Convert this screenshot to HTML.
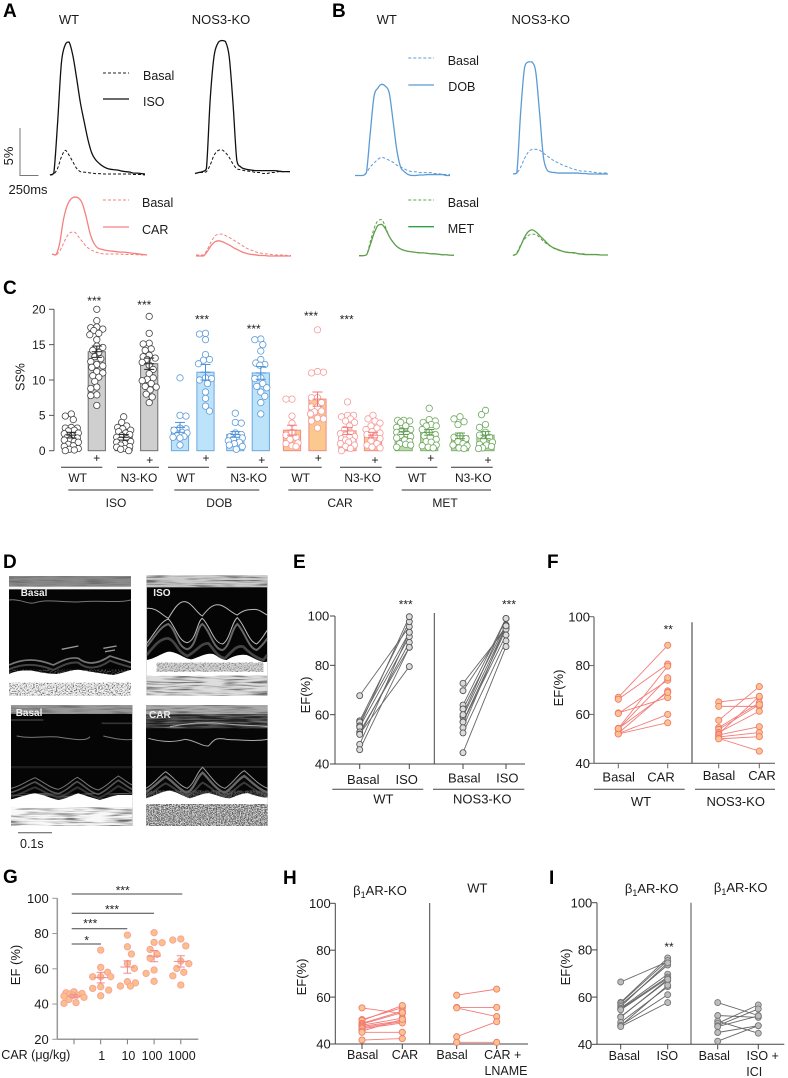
<!DOCTYPE html>
<html lang="en">
<head>
<meta charset="utf-8">
<title>Cardiac contractility figure</title>
<style>
html,body{margin:0;padding:0;background:#fff}
svg{display:block;font-family:"Liberation Sans",Arial,sans-serif;fill:#1a1a1a}
.pl{font-size:19px;font-weight:bold;fill:#000}
.t13{font-size:13px}
.t125{font-size:12.5px}
.t12{font-size:12px}
.m{text-anchor:middle}
.star{font-size:12px;text-anchor:middle;fill:#222}
.ew{font-size:10px;font-weight:bold;fill:#eee}
</style>
</head>
<body>
<svg id="fig" xmlns="http://www.w3.org/2000/svg" width="788" height="1078" viewBox="0 0 788 1078">
<defs>
<filter id="stripes" x="0" y="0" width="1" height="1">
<feTurbulence type="fractalNoise" baseFrequency=".012 .2" numOctaves="2" seed="4" result="n"/>
<feColorMatrix in="n" type="matrix" values="0 0 0 0 .15  0 0 0 0 .15  0 0 0 0 .15  3.2 0 0 0 -1.4" result="dark"/>
<feMerge><feMergeNode in="SourceGraphic"/><feMergeNode in="dark"/></feMerge>
</filter>
<filter id="speck" x="0" y="0" width="1" height="1">
<feTurbulence type="fractalNoise" baseFrequency=".22 .3" numOctaves="2" seed="9" result="n"/>
<feColorMatrix in="n" type="matrix" values="0 0 0 0 .1  0 0 0 0 .1  0 0 0 0 .1  4 0 0 0 -1.8" result="dark"/>
<feMerge><feMergeNode in="SourceGraphic"/><feMergeNode in="dark"/></feMerge>
</filter>
<filter id="speckDark" x="0" y="0" width="1" height="1">
<feTurbulence type="fractalNoise" baseFrequency=".25 .32" numOctaves="2" seed="15" result="n"/>
<feColorMatrix in="n" type="matrix" values="0 0 0 0 .1  0 0 0 0 .1  0 0 0 0 .1  4 0 0 0 -1.4" result="dark"/>
<feMerge><feMergeNode in="SourceGraphic"/><feMergeNode in="dark"/></feMerge>
</filter>
<clipPath id="e1"><rect x="27" y="78" width="366" height="359"/></clipPath>
<clipPath id="e2"><rect x="440" y="76" width="362" height="361"/></clipPath>
<clipPath id="e3"><rect x="33" y="465" width="364" height="363"/></clipPath>
<clipPath id="e4"><rect x="438" y="465" width="365" height="363"/></clipPath>
</defs>

<g id="panel-a">
<text class="pl" x="3" y="17">A</text>
<text class="t13 m" x="69" y="24">WT</text>
<text class="t13 m" x="221" y="24">NOS3-KO</text>
<line x1="103" x2="129" y1="73" y2="73" stroke="#222" stroke-width="1" stroke-dasharray="3 2"/>
<line x1="103" x2="129" y1="99" y2="99" stroke="#111" stroke-width="1.3"/>
<text class="t125" x="143" y="80">Basal</text>
<text class="t125" x="143" y="106">ISO</text>
<line x1="103" x2="129" y1="200" y2="200" stroke="#f58080" stroke-width="1" stroke-dasharray="3 2"/>
<line x1="103" x2="129" y1="227" y2="227" stroke="#f58080" stroke-width="1.3"/>
<text class="t125" x="142" y="207">Basal</text>
<text class="t125" x="142" y="234">CAR</text>
<path d="M20 128V175.5H38.5" fill="none" stroke="#777" stroke-width="1"/>
<text class="t13 m" transform="translate(13,156) rotate(-90)">5%</text>
<text class="t13" x="8.5" y="194">250ms</text>
</g>

<g id="panel-b">
<text class="pl" x="332" y="17">B</text>
<text class="t13 m" x="386.7" y="24">WT</text>
<text class="t13 m" x="540.7" y="24">NOS3-KO</text>
<line x1="408.3" x2="434" y1="58" y2="58" stroke="#5b9bd5" stroke-width="1" stroke-dasharray="3 2"/>
<line x1="408.3" x2="434" y1="85" y2="85" stroke="#5b9bd5" stroke-width="1.3"/>
<text class="t125" x="447.7" y="65">Basal</text>
<text class="t125" x="448.3" y="91">DOB</text>
<line x1="408.3" x2="434" y1="200" y2="200" stroke="#5da04a" stroke-width="1" stroke-dasharray="3 2"/>
<line x1="408.3" x2="434" y1="226.7" y2="226.7" stroke="#2fa04a" stroke-width="1.3"/>
<text class="t125" x="447.7" y="207">Basal</text>
<text class="t125" x="447.7" y="233">MET</text>
</g>

<g id="panel-c">
<text class="pl" x="3" y="294">C</text>
<text class="t125 m" transform="translate(24.5,377) rotate(-90)">SS%</text>
<text class="star" x="94.3" y="305">***</text>
<text class="star" x="144.3" y="309">***</text>
<text class="star" x="202" y="323.7">***</text>
<text class="star" x="253.7" y="333">***</text>
<text class="star" x="311" y="320">***</text>
<text class="star" x="346.7" y="323.7">***</text>
<g class="t12 m">
<text x="96.7" y="462">+</text>
<text x="149.7" y="464">+</text>
<text x="206" y="462">+</text>
<text x="261.7" y="464">+</text>
<text x="318.3" y="462">+</text>
<text x="375" y="464">+</text>
<text x="430.7" y="462">+</text>
<text x="488" y="464">+</text>
</g>
<g stroke="#333" stroke-width="1">
<line x1="61" x2="102.3" y1="467.3" y2="467.3"/>
<line x1="117" x2="159" y1="467.3" y2="467.3"/>
<line x1="168" x2="209" y1="467.3" y2="467.3"/>
<line x1="226.7" x2="268" y1="467.3" y2="467.3"/>
<line x1="280" x2="321.7" y1="467.3" y2="467.3"/>
<line x1="340" x2="381.7" y1="467.3" y2="467.3"/>
<line x1="395.7" x2="437.3" y1="467.3" y2="467.3"/>
<line x1="451" x2="492.7" y1="467.3" y2="467.3"/>
</g>
<g class="t12 m">
<text x="77.7" y="482">WT</text>
<text x="139" y="482">N3-KO</text>
<text x="186" y="482">WT</text>
<text x="248.7" y="482">N3-KO</text>
<text x="300.7" y="482">WT</text>
<text x="362.7" y="482">N3-KO</text>
<text x="417.3" y="482">WT</text>
<text x="473.3" y="482">N3-KO</text>
</g>
<g stroke="#777" stroke-width="1.5">
<line x1="68.3" x2="153.3" y1="490" y2="490"/>
<line x1="174.3" x2="259.3" y1="490" y2="490"/>
<line x1="288.3" x2="373.3" y1="490" y2="490"/>
<line x1="401.7" x2="491" y1="490" y2="490"/>
</g>
<g class="t12 m">
<text x="116" y="507">ISO</text>
<text x="219.3" y="507">DOB</text>
<text x="340" y="507">CAR</text>
<text x="445" y="507">MET</text>
</g>
</g>

<g id="panel-d">
<text class="pl" x="3" y="568">D</text>
<g transform="translate(0,550) scale(.33333)">
<g clip-path="url(#e1)">
<rect x="27" y="78" width="366" height="359" fill="#050505"/>
<rect x="27" y="78" width="366" height="36" fill="#8a8a8a" filter="url(#stripes)"/>
<rect x="27" y="110" width="366" height="8" fill="#f4f4f4"/>
<path d="M27 150 C60 145 85 165 105 158 C150 145 190 160 250 155 C300 150 350 160 393 150" fill="none" stroke="#777" stroke-width="3"/>
<path d="M185 298 L235 288 M310 295 L350 288 M315 305 L345 300" fill="none" stroke="#999" stroke-width="4"/>
<path d="M27 345 C70 325 110 325 160 345 C190 330 210 320 235 325 C260 345 290 345 330 318 C350 325 370 330 393 338" fill="none" stroke="#777" stroke-width="5"/>
<path d="M27 358 C70 340 110 340 160 360 C190 345 210 335 235 338 C260 358 290 360 330 332 C350 340 370 345 393 352" fill="none" stroke="#444" stroke-width="6"/>
<path d="M27 372 C50 362 80 358 110 365 C135 370 150 372 170 372 C200 368 215 358 240 360 C270 365 310 372 340 375 C360 372 380 362 393 360 V437 H27Z" fill="#f5f5f5" filter="url(#speck)"/>
<path d="M27 372 C50 362 80 358 110 365 C135 370 150 372 170 372 C200 368 215 358 240 360 C270 365 310 372 340 375 C360 372 380 362 393 360 V398 H27Z" fill="#fff"/>
</g>
<g clip-path="url(#e2)">
<rect x="440" y="76" width="362" height="361" fill="#050505"/>
<rect x="440" y="76" width="362" height="36" fill="#ccc" filter="url(#stripes)"/>
<path d="M440 175 C470 172 485 195 505 205 C520 180 535 155 552 155 C575 155 590 190 607 198 C625 175 640 160 660 165 C680 170 695 190 712 195 C730 180 745 178 765 178 C780 178 790 190 802 195" fill="none" stroke="#bbb" stroke-width="3"/>
<path d="M440 280 C465 250 480 215 505 207 C525 225 535 275 562 278 C590 270 590 215 607 205 C630 225 640 280 668 282 C690 270 695 215 712 203 C735 225 745 275 770 282 C785 270 795 250 802 240" fill="none" stroke="#bbb" stroke-width="3"/>
<path d="M440 290 C465 260 480 230 505 222 C530 240 530 290 562 298 C590 290 590 230 607 222 C630 240 640 300 668 300 C690 290 695 235 712 222 C735 245 745 295 770 300 C785 290 795 275 802 265" fill="none" stroke="#666" stroke-width="6"/>
<path d="M440 315 C465 285 480 265 505 265 C530 275 530 305 562 318 C590 305 600 280 625 280 C640 295 650 320 675 325 C700 300 710 285 730 290 C750 310 770 325 790 330 L802 315" fill="none" stroke="#444" stroke-width="8"/>
<path d="M440 330 C470 325 490 305 510 305 C540 310 555 328 575 328 C600 320 620 308 640 312 C655 320 665 330 680 330 C700 318 720 312 740 315 C765 325 785 340 802 335 V380 H440Z" fill="#fff"/>
<rect x="470" y="338" width="320" height="27" fill="#ccc" filter="url(#speck)" opacity=".8"/>
<rect x="440" y="378" width="362" height="59" fill="#ddd" filter="url(#stripes)"/>
</g>
<g clip-path="url(#e3)">
<rect x="33" y="465" width="364" height="363" fill="#050505"/>
<rect x="33" y="465" width="364" height="27" fill="#9a9a9a" filter="url(#stripes)"/>
<path d="M33 510 H130 M305 520 H397" stroke="#333" stroke-width="5"/>
<path d="M50 558 C100 568 140 556 180 562 C220 568 260 575 270 560 M310 558 C340 565 370 572 397 568" fill="none" stroke="#777" stroke-width="3"/>
<rect x="33" y="648" width="364" height="7" fill="#1c1c1c"/>
<path d="M33 715 C60 710 85 690 105 683 C130 695 150 715 175 718 C200 710 215 690 232 682 C255 695 270 715 295 720 C320 710 335 690 355 678 C375 690 385 700 397 705" fill="none" stroke="#777" stroke-width="3"/>
<path d="M33 727 C60 722 85 702 105 696 C130 708 150 728 175 731 C200 723 215 703 232 695 C255 708 270 728 295 733 C320 723 335 703 355 691 C375 703 385 713 397 718" fill="none" stroke="#555" stroke-width="5"/>
<path d="M33 740 C60 735 85 718 105 712 C130 722 150 738 175 742 C200 736 215 720 232 712 C255 722 270 738 295 744 C320 736 335 720 355 708 C375 718 385 725 397 730" fill="none" stroke="#333" stroke-width="6"/>
<path d="M33 748 C60 742 85 732 105 730 C135 735 150 745 175 750 C205 745 215 735 235 730 C260 738 280 745 300 750 C320 745 345 735 360 735 C375 735 385 735 397 735 V828 H33Z" fill="#f8f8f8" filter="url(#stripes)"/>
<path d="M33 748 C60 742 85 732 105 730 C135 735 150 745 175 750 C205 745 215 735 235 730 C260 738 280 745 300 750 C320 745 345 735 360 735 C375 735 385 735 397 735 V772 H33Z" fill="#fff"/>
</g>
<g clip-path="url(#e4)">
<rect x="438" y="465" width="365" height="363" fill="#060606"/>
<rect x="438" y="465" width="365" height="28" fill="#aaa" filter="url(#stripes)"/>
<rect x="438" y="495" width="365" height="40" fill="#222" filter="url(#stripes)"/>
<path d="M510 530 C560 520 610 515 660 520 C700 525 750 525 803 530" fill="none" stroke="#aaa" stroke-width="3"/>
<path d="M445 565 C480 575 520 578 555 568 C585 570 605 590 625 588 C640 575 640 560 680 568 C720 570 760 575 803 568" fill="none" stroke="#aaa" stroke-width="3"/>
<rect x="438" y="648" width="365" height="6" fill="#222"/>
<path d="M438 715 C465 700 480 675 497 665 C520 680 540 710 562 715 C585 700 590 665 608 652 C630 675 650 710 675 715 C700 700 715 670 733 662 C755 680 775 705 803 715" fill="none" stroke="#999" stroke-width="3"/>
<path d="M438 725 C465 710 480 690 497 680 C520 695 540 722 562 728 C585 715 590 680 608 668 C630 690 650 722 675 728 C700 712 715 685 733 678 C755 695 775 718 803 728" fill="none" stroke="#666" stroke-width="7"/>
<path d="M438 738 C465 725 480 708 497 700 C520 710 540 732 562 738 C585 728 595 705 608 698 C630 708 650 734 675 738 C700 728 715 705 733 698 C755 712 775 730 803 738" fill="none" stroke="#3a3a3a" stroke-width="6"/>
<path d="M438 745 C460 740 490 722 510 722 C535 728 550 740 570 745 C590 740 610 728 630 730 C650 735 670 745 690 745 C710 738 730 728 745 730 C770 738 790 745 803 742 V828 H438Z" fill="#e0e0e0" filter="url(#speckDark)"/>
<path d="M438 745 C460 740 490 722 510 722 C535 728 550 740 570 745 C590 740 610 728 630 730 C650 735 670 745 690 745 C710 738 730 728 745 730 C770 738 790 745 803 742 V762 H438Z" fill="#fff"/>
</g>
</g>
<text class="ew" x="20.7" y="596">Basal</text>
<text class="ew" x="153.3" y="596">ISO</text>
<text class="ew" x="15.7" y="716">Basal</text>
<text class="ew" x="149" y="718">CAR</text>
<line x1="18" x2="52" y1="832.7" y2="832.7" stroke="#555" stroke-width="1"/>
<text class="t125" x="20" y="848">0.1s</text>
</g>

<g id="panel-e">
<text class="pl" x="293" y="568">E</text>
<text class="t13 m" transform="translate(310,695) rotate(-90)">EF(%)</text>
<text class="star" x="405.7" y="608.7">***</text>
<text class="star" x="509" y="608.7">***</text>
<g class="t13 m">
<text x="363.3" y="784">Basal</text>
<text x="406.7" y="784">ISO</text>
<text x="464.3" y="782.3">Basal</text>
<text x="507.3" y="782.3">ISO</text>
<text x="383.3" y="803.3">WT</text>
<text x="482.3" y="803.3">NOS3-KO</text>
</g>
<line x1="332.3" x2="423.3" y1="789.3" y2="789.3" stroke="#444"/>
<line x1="433" x2="524.3" y1="789.3" y2="789.3" stroke="#444"/>
<line x1="434.3" x2="434.3" y1="613" y2="764" stroke="#444"/>
</g>

<g id="panel-f">
<text class="pl" x="547" y="568">F</text>
<text class="t13 m" transform="translate(563,688) rotate(-90)">EF(%)</text>
<text class="star" x="668.3" y="633.7">**</text>
<g class="t13 m">
<text x="618.7" y="781.7">Basal</text>
<text x="661" y="781.7">CAR</text>
<text x="719" y="780">Basal</text>
<text x="762" y="780">CAR</text>
<text x="641" y="806">WT</text>
<text x="735.7" y="806">NOS3-KO</text>
</g>
<line x1="594" x2="684.7" y1="789.3" y2="789.3" stroke="#444"/>
<line x1="695" x2="775" y1="789.3" y2="789.3" stroke="#444"/>
<line x1="692" x2="692" y1="622.3" y2="763.3" stroke="#555" stroke-width="1.2"/>
</g>

<g id="panel-g">
<text class="pl" x="3" y="883">G</text>
<text class="t13 m" transform="translate(20,965) rotate(-90)">EF (%)</text>
<text class="t125" x="1.3" y="1059">CAR (μg/kg)</text>
<g stroke="#444" stroke-width="1">
<line x1="71.7" x2="182.3" y1="894" y2="894"/>
<line x1="71.7" x2="154" y1="913.3" y2="913.3"/>
<line x1="71.7" x2="127.3" y1="928.7" y2="928.7"/>
<line x1="71.7" x2="101" y1="944" y2="944"/>
</g>
<text class="star" x="122.7" y="894.3">***</text>
<text class="star" x="112" y="913.3">***</text>
<text class="star" x="90.3" y="927.3">***</text>
<text class="star" x="86.7" y="944.3">*</text>
</g>

<g id="panel-h">
<text class="pl" x="283" y="884">H</text>
<text class="t13 m" transform="translate(306,977) rotate(-90)">EF(%)</text>
<text class="t13 m" x="380" y="895">β<tspan font-size="9" dy="3">1</tspan><tspan dy="-3">AR-KO</tspan></text>
<text class="t13 m" x="477.3" y="892.7">WT</text>
<line x1="429.7" x2="429.7" y1="903" y2="1044" stroke="#444"/>
<g class="t125 m">
<text x="362.7" y="1059">Basal</text>
<text x="405" y="1059">CAR</text>
<text x="452" y="1059">Basal</text>
<text x="502.7" y="1059">CAR +</text>
<text x="506" y="1075">LNAME</text>
</g>
</g>

<g id="panel-i">
<text class="pl" x="549" y="884">I</text>
<text class="t13 m" transform="translate(570,967) rotate(-90)">EF(%)</text>
<text class="t13 m" x="651.7" y="893">β<tspan font-size="9" dy="3">1</tspan><tspan dy="-3">AR-KO</tspan></text>
<text class="t13 m" x="740.7" y="892">β<tspan font-size="9" dy="3">1</tspan><tspan dy="-3">AR-KO</tspan></text>
<text class="star" x="669" y="951">**</text>
<line x1="691" x2="691" y1="902.7" y2="1044.3" stroke="#888" stroke-width="1.5"/>
<g class="t125 m">
<text x="624.3" y="1060">Basal</text>
<text x="667.3" y="1060">ISO</text>
<text x="714.3" y="1060">Basal</text>
<text x="762.7" y="1060">ISO +</text>
<text x="754.3" y="1076">ICI</text>
</g>
</g>
</svg>

<script>
/* ---------- sarcomere-shortening traces: time (ms) and SS (%) ---------- */
const traceTimes = [0,50,100,150,200,250,300,350,400,450,500,550,600,650,700,750,800,850,900,950,1000,1050,1100,1150,1200,1250];
const aWtBasal  = [0,.1,.7,1.9,2.6,2.1,1.4,.7,.35,.3,.25,.2,.15,.15,.1,.1,.1,.1,.1,.1,.1,.1,.05,.05,.05,0];
const aWtIso    = [0,.2,5.5,11.8,13.7,14,12.6,10.2,7.6,5.6,3.7,2.3,1.6,1.2,.9,.7,.6,.55,.5,.4,.35,.3,.2,.2,.15,.1];
const aKoBasal  = [0,.1,.1,.2,.9,1.9,2.4,2.5,2.2,1.7,1,.5,.4,.3,.25,.2,.1,.1,0,0,.1,.1,.2,.2,.2,.2];
const aKoIso    = [0,.1,.2,.5,7.8,12.3,13.7,14,13.9,12.3,7.4,1.4,.7,.5,.4,.35,.3,.3,.3,.3,.3,.3,.25,.2,.2,.2];
const aWtBasalR = [.1,0,.4,1.2,2,2.4,2.4,1.9,1.4,.9,.6,.4,.25,.15,.1,.1,.1,.1,.1,.05,.05,.05,.05,0,0,0];
const aWtCar    = [.1,0,1.2,3.7,5.2,5.9,6.1,6,5.4,4,2.3,1.25,.75,.6,.5,.45,.4,.35,.3,.3,.25,.2,.15,.1,.05,0];
const aKoBasalR = [.1,.1,.1,.7,1.5,2.1,2.3,2.3,2.1,1.9,1.65,1.4,1.15,.9,.7,.55,.4,.3,.25,.2,.15,.1,.1,.1,.05,.05];
const aKoCar    = [0,0,0,.5,1.1,1.5,1.6,1.5,1.3,1.1,.85,.65,.45,.3,.2,.15,.1,.05,.05,0,0,0,0,0,0,0];
const bWtBasal  = [0,0,0,.3,.9,1.3,1.7,1.9,1.8,1.6,1.4,1.1,.9,.7,.5,.4,.4,.3,.3,.3,.3,.2,.2,.1,.1,.1];
const bWtDob    = [0,0,0,.3,4.4,8.3,9.2,9.6,9.4,8.7,5.8,2.7,.9,.4,.1,0,0,.05,.05,.1,.1,.1,.1,.1,0,0];
const bKoBasal  = [0,.1,.7,1.6,2.3,2.6,2.6,2.5,2.2,1.9,1.6,1.35,1.15,.95,.8,.65,.5,.4,.3,.3,.25,.2,.15,.1,.1,.1];
const bKoDob    = [0,.1,6.4,11.1,11.8,11.8,10.7,6.4,1.8,.4,.2,.15,.1,.1,.1,.1,.1,.1,.05,.05,0,0,0,0,0,0];
const bWtBasalG = [0,0,.1,1.5,2.9,3.7,3.8,3,2,1.4,.95,.7,.55,.45,.4,.35,.3,.3,.25,.2,.2,.15,.1,.1,.05,.05];
const bWtMet    = [0,0,.1,1.2,2.4,3.2,3.3,2.8,2,1.4,.95,.7,.55,.45,.4,.35,.3,.3,.25,.2,.2,.15,.1,.1,.05,.05];
const bKoBasalG = [0,.3,1.1,1.7,2.1,2.25,2.2,1.9,1.5,1.2,.95,.7,.55,.45,.35,.3,.25,.2,.2,.15,.1,.1,.1,.05,.05,.05];
const bKoMet    = [0,.2,1,1.9,2.5,2.7,2.5,2.1,1.7,1.3,.95,.75,.6,.45,.35,.3,.3,.2,.15,.1,.1,.1,.1,.05,.05,.05];

/* ---------- panel C: SS% ---------- */
const ssTicks = [0,5,10,15,20];
const ssMeans = [2.2,14,1.9,12.3, 3.3,11.1,2.3,11, 2.9,7.3,2.8,2.2, 2.7,2.6,2.1,2.2];
const ssErrs  = [.4,.8,.4,.8, .7,1.1,.4,.9, .7,1,.5,.4, .4,.4,.4,.5];
const ssIsoWtBasal = [5.2,4.9,4.4,3.3,3.2,3.2,2.9,2.8,2.5,2.4,2.1,1.9,1.8,1.6,1.5,1.3,1.2,.9,.7,.6,.3,.2,.1,0];
const ssIsoWtPlus  = [20,18.4,17.5,17.4,17.2,17,16.6,16.4,15.7,14.8,14.6,14.2,13.9,13.3,13,12.6,12.2,12,11.8,11.2,11,10.6,10.4,9.8,9,8.8,7.9,7.8,6.4];
const ssIsoN3Basal = [4.8,4,3.5,3.3,3.1,2.9,2.7,2.5,2.3,2.1,1.9,1.7,1.5,1.3,1.2,1,.8,.6,.5,.3,.2,0];
const ssIsoN3Plus  = [19,16.6,15.2,15.1,14.4,14.2,13.5,13.3,13.1,12.9,12.5,12.1,11.5,10.9,10.3,10.1,9.9,9.5,9.1,9,8.6,8,7.6,6.8];
const ssDobWtBasal = [10.3,5,4.9,3.2,3.1,2.9,2.6,2.5,2.1,2,1.9,1.8,.8];
const ssDobWtPlus  = [16.6,16.5,15.7,13.6,12.9,12.8,12.3,10.3,10.2,10,9.5,8.3,7.4,6.3,5.6];
const ssDobN3Basal = [5.3,4,3.9,2.5,2.3,2,1.9,1.8,1.6,1.4,1.2,1,.8,.6,.2];
const ssDobN3Plus  = [15.8,15.7,15,14.1,12.9,12.4,12.2,12.1,10.3,10.2,9.5,9.1,8.9,8.3,7.7,6.8,5.2];
const ssCarWtBasal = [7.3,7.3,4.9,3.9,2.6,2.2,1.9,1.6,1.1,1,.7,.6];
const ssCarWtPlus  = [17.1,11.2,11.1,11,7.5,7.5,6.8,6.2,6.2,5.6,5.5,5.2,4.6,4.5,4.2,3.2];
const ssCarN3Basal = [6.9,5,5,4.8,4.5,4.2,4,3.5,3,2.6,2.4,2.2,2,1.9,1.7,1.5,1.4,1.2,1,.8,.6,.3,0];
const ssCarN3Plus  = [5,4.5,4.2,3.9,3.5,3.2,3,2.7,2.5,2.3,2,1.7,1.4,1,.8,.5,.4];
const ssMetWtBasal = [4.3,4.3,4.2,4,3.5,3.3,3,2.8,2.6,2.4,2.2,2,1.8,1.5,1.3,1,.9,.8,.5];
const ssMetWtPlus  = [6,4.4,4.2,4,3.7,3.5,3.5,3,2.6,2.3,2.1,1.9,1.6,1.3,1.2,.8,.7,.5,.4];
const ssMetN3Basal = [4.8,4.5,4.1,3.7,2.1,1.9,1.7,1.3,1,.8,.7,.4,.3];
const ssMetN3Plus  = [5.7,5.1,3.7,3.3,2.6,2.2,1.9,1.5,1.2,.9,.8,.6,.4,.3];
const ssGroups = [ssIsoWtBasal,ssIsoWtPlus,ssIsoN3Basal,ssIsoN3Plus,ssDobWtBasal,ssDobWtPlus,ssDobN3Basal,ssDobN3Plus,ssCarWtBasal,ssCarWtPlus,ssCarN3Basal,ssCarN3Plus,ssMetWtBasal,ssMetWtPlus,ssMetN3Basal,ssMetN3Plus];

/* ---------- panels E, F, H, I: paired EF% ---------- */
const efTicks = [40,60,80,100];
const eWtBasal = [67.7,57.5,57,55.5,55,53,52.2,52,48,45.8];
const eWtIso   = [95.7,97.7,93.4,99.7,91.6,87.3,79.5,89.3,93.4,87.3];
const eKoBasal = [72.7,69.7,63.9,62.3,59.2,57.2,57,54.7,52.6,44.6,60];
const eKoIso   = [95,96,99,96.4,95.7,94.6,92.3,96,89.9,87.6,99];
const fWtBasal = [67,66.2,60.6,60.4,54.3,54,52.3,52.2,52,54.2];
const fWtCar   = [88.3,80.6,66.9,74,79.8,75,69.6,60,56.6,69];
const fKoBasal = [65.1,63.3,57.6,54.6,53.9,52.6,52,51.6,50.8,50.2,50];
const fKoCar   = [67,63.3,71.4,64.8,64,61.3,67.4,55,52.6,45,50.9];
const hKoBasal = [55.4,50.4,50,48.8,48.5,48,47.5,47,46.5,45.5,45,41.7];
const hKoCar   = [53,55.5,56.4,54,53.4,51,50,49.5,49,50.5,45,42.3];
const hWtBasal = [60.8,55.6,55.4,43.1,40.7];
const hWtCar   = [63.4,55.6,51.7,49.5,40.7];
const iIsoBasal = [66.4,57.8,57.5,56.7,56,55.3,55,54.6,51.7,51.5,49.3,48,47.9,47.5];
const iIsoAfter = [75,76.6,75.5,73.6,74.5,69.7,68.5,68,67,67.5,64.4,61,65,57.7];
const iIciBasal = [57.7,52.2,49.8,48.9,47.9,47.5,45,41.3];
const iIciAfter = [52.2,51.4,44.7,56.7,55,52,47.9,47.9];

/* ---------- panel G: dose response ---------- */
const gDoses = ['','1','10','100','1000'];
const gTicks = [20,40,60,80,100];
const gDose0    = [45.7,40.8,47,46.4,45.1,43.8,42.6,40.4,45,46,44.5];
const gDose1    = [70.6,60.8,58,55.5,55.5,55.5,49.8,48.9,47.9,44.7];
const gDose10   = [79.1,72.5,68.4,63,60.2,52.7,52,50.2,50.2];
const gDose100  = [80.5,74.8,75,71,68.2,66,59.3,57.4,52.9];
const gDose1000 = [76.9,76.3,73,64.4,62.9,60.2,58,56,50.8];
const gSeries = [gDose0,gDose1,gDose10,gDose100,gDose1000];
const gMeans = [44.5,55,61,67.2,64.2];
const gErrs  = [1,3,3.5,3.2,3.2];

/* ---------- helpers ---------- */
const NS = 'http://www.w3.org/2000/svg';
function mk(tag, attrs, parent, text) {
  const n = document.createElementNS(NS, tag);
  for (const k in attrs) n.setAttribute(k, attrs[k]);
  if (text !== undefined) n.textContent = text;
  parent.appendChild(n);
  return n;
}
function yScale(dMin, dMax, pxBottom, pxTop) {
  return v => pxBottom - (v - dMin) * (pxBottom - pxTop) / (dMax - dMin);
}
function clampTo(v, a, b) {
  return Math.min(Math.max(v, Math.min(a, b)), Math.max(a, b));
}
function smooth(p) {
  let d = 'M' + p[0][0].toFixed(2) + ' ' + p[0][1].toFixed(2);
  for (let i = 0; i < p.length - 1; i++) {
    const a = p[Math.max(i - 1, 0)], b = p[i], c = p[i + 1], e = p[Math.min(i + 2, p.length - 1)];
    const c1y = clampTo(b[1] + (c[1] - a[1]) / 6, b[1], c[1]);
    const c2y = clampTo(c[1] - (e[1] - b[1]) / 6, b[1], c[1]);
    d += 'C' + (b[0] + (c[0] - a[0]) / 6).toFixed(2) + ' ' + c1y.toFixed(2) + ' '
       + (c[0] - (e[0] - b[0]) / 6).toFixed(2) + ' ' + c2y.toFixed(2) + ' '
       + c[0].toFixed(2) + ' ' + c[1].toFixed(2);
  }
  return d;
}
function drawTrace(parent, name, values, x0, baseY, color, dashed) {
  const tx = t => x0 + t * 0.076;
  const vy = v => baseY - v * 9.5;
  const pts = values.map((v, i) => [tx(traceTimes[i]), vy(v)]);
  const attrs = {d: smooth(pts), fill: 'none', stroke: color, 'stroke-width': dashed ? 1 : 1.3, 'stroke-linejoin': 'round'};
  if (dashed) attrs['stroke-dasharray'] = '3 2';
  const tr = mk('path', attrs, parent);
  
  
}
function drawAxis(parent, prefix, o) {
  const yAxis = mk('line', {x1: o.x, x2: o.x, y1: o.y(o.ticks[o.ticks.length - 1]) - (o.over || 0), y2: o.y(o.ticks[0]), stroke: o.color, 'stroke-width': o.width}, parent);
  
  
  o.ticks.forEach(t => {
    const tk = mk('line', {x1: o.x - 5, x2: o.x, y1: o.y(t), y2: o.y(t), stroke: o.color, 'stroke-width': 1}, parent);
    
    
    const lb = mk('text', {x: o.labelX, y: o.y(t) + o.font * .36, 'text-anchor': 'end', 'font-size': o.font}, parent, String(t));
    
    
  });
  if (o.xEnd) {
    const xAxis = mk('line', {x1: o.x, x2: o.xEnd, y1: o.y(o.ticks[0]), y2: o.y(o.ticks[0]), stroke: o.color, 'stroke-width': o.width}, parent);
    
    
  }
}
function drawXTick(parent, name, x, y, color) {
  const tk = mk('line', {x1: x, x2: x, y1: y, y2: y + 5, stroke: color, 'stroke-width': 1}, parent);
  
  
}
function drawPaired(parent, prefix, x0, step, y, before, after, style, tickColor) {
  const x = i => x0 + i * step;
  drawXTick(parent, prefix + '-x-tick-before', x(0), y(40), tickColor);
  drawXTick(parent, prefix + '-x-tick-after', x(1), y(40), tickColor);
  before.forEach((v, i) => {
    const ln = mk('line', {x1: x(0), y1: y(v), x2: x(1), y2: y(after[i]), stroke: style.line, 'stroke-width': .9}, parent);
    
    
  });
  [[before, 0], [after, 1]].forEach(([arr, k]) => arr.forEach(v => {
    const pt = mk('circle', {cx: x(k), cy: y(v), r: style.r, fill: style.fill, stroke: style.stroke, 'stroke-width': .9}, parent);
    
    
  }));
}
function swarm(values, y, minD, maxOff) {
  const sorted = values.slice().sort((a, b) => b - a);
  const placed = [];
  sorted.forEach((v, i) => {
    const py = y(v), dir = i % 2 ? -1 : 1;
    const offs = [0];
    for (let o = 1; o <= maxOff; o += 1) offs.push(o * dir, -o * dir);
    let best = 0, bestClear = -1;
    for (const off of offs) {
      let clear = Infinity;
      placed.forEach(p => { clear = Math.min(clear, Math.hypot(p.off - off, p.py - py)); });
      if (clear >= minD) { best = off; bestClear = clear; break; }
      if (clear > bestClear) { bestClear = clear; best = off; }
    }
    placed.push({v: v, off: best, py: py});
  });
  return placed;
}
function drawErr(parent, prefix, x, y, mean, err, halfMean, halfCap, color, w) {
  const seg = (x1, y1, x2, y2, nm) => {
    const s = mk('line', {x1: x1, y1: y1, x2: x2, y2: y2, stroke: color, 'stroke-width': w}, parent);
    
    
  };
  seg(x, y(mean + err), x, y(mean - err), '-error-bar');
  seg(x - halfCap, y(mean + err), x + halfCap, y(mean + err), '-error-cap');
  seg(x - halfCap, y(mean - err), x + halfCap, y(mean - err), '-error-cap');
  seg(x - halfMean, y(mean), x + halfMean, y(mean), '-mean-line');
}

/* ---------- panels A & B ---------- */
const gA = document.getElementById('panel-a');
const gB = document.getElementById('panel-b');
const RED = '#f58080', BLUE = '#5b9bd5', GREEND = '#5da04a', BLACK = '#111';
drawTrace(gA, 'trace-wt-basal', aWtBasal, 50, 175, BLACK, true);
drawTrace(gA, 'trace-wt-iso', aWtIso, 50, 175, BLACK, false);
drawTrace(gA, 'trace-ko-basal', aKoBasal, 195, 173.5, BLACK, true);
drawTrace(gA, 'trace-ko-iso', aKoIso, 195, 173.5, BLACK, false);
drawTrace(gA, 'trace-wt-basal-car', aWtBasalR, 52, 255, RED, true);
drawTrace(gA, 'trace-wt-car', aWtCar, 52, 255, RED, false);
drawTrace(gA, 'trace-ko-basal-car', aKoBasalR, 196, 256, RED, true);
drawTrace(gA, 'trace-ko-car', aKoCar, 196, 256, RED, false);
drawTrace(gB, 'trace-wt-basal-dob', bWtBasal, 355, 175.5, BLUE, true);
drawTrace(gB, 'trace-wt-dob', bWtDob, 355, 175.5, BLUE, false);
drawTrace(gB, 'trace-ko-basal-dob', bKoBasal, 513, 174, BLUE, true);
drawTrace(gB, 'trace-ko-dob', bKoDob, 513, 174, BLUE, false);
drawTrace(gB, 'trace-wt-basal-met', bWtBasalG, 359, 255.7, GREEND, true);
drawTrace(gB, 'trace-wt-met', bWtMet, 359, 255.7, GREEND, false);
drawTrace(gB, 'trace-ko-basal-met', bKoBasalG, 513, 255.5, GREEND, true);
drawTrace(gB, 'trace-ko-met', bKoMet, 513, 255.5, GREEND, false);

/* ---------- panel C ---------- */
const gC = document.getElementById('panel-c');
const yC = yScale(0, 20, 450.7, 309.3);
const drugStart = [71.3, 180, 292, 403.7];
const genoStep = [52.4, 55.3, 55.5, 56.3];
const xBand = i => {
  const drug = Math.floor(i / 4), geno = Math.floor((i % 4) / 2), arm = i % 2;
  return drugStart[drug] + genoStep[drug] * geno + 25.5 * arm;
};
const drugStyle = [
  {bar: '#cfcfcf', edge: '#6e6e6e', pt: '#444', err: '#222'},
  {bar: '#bde3fb', edge: '#6aa8df', pt: '#5d9ad8', err: '#4a90d9'},
  {bar: '#fbc98e', edge: '#f58a8a', pt: '#f79a9a', err: '#f07878'},
  {bar: '#bcdcae', edge: '#7fb56f', pt: '#6fa85f', err: '#5d9c4d'}
];
drawAxis(gC, 'ss', {x: 54, y: yC, ticks: ssTicks, color: '#555', width: 1, labelX: 45.5, font: 12});
ssMeans.forEach((m, i) => {
  const st = drugStyle[Math.floor(i / 4)], cx = xBand(i);
  const bar = mk('rect', {x: cx - 8.6, y: yC(m), width: 17.2, height: yC(0) - yC(m), fill: st.bar, stroke: st.edge, 'stroke-width': 1}, gC);
  
  
});
ssGroups.forEach((vals, i) => {
  const st = drugStyle[Math.floor(i / 4)], cx = xBand(i);
  swarm(vals, yC, 5.8, 7).forEach(p => {
    const dot = mk('circle', {cx: cx + p.off, cy: yC(p.v), r: 3.2, fill: '#fff', stroke: st.pt, 'stroke-width': .8}, gC);
    
    
  });
});
ssMeans.forEach((m, i) => {
  const st = drugStyle[Math.floor(i / 4)];
  drawErr(gC, 'ss', xBand(i), yC, m, ssErrs[i], 5, 5, st.err, 1);
});

/* ---------- panels E, F, H, I ---------- */
const grey = {line: '#666', fill: '#dcdcdc', stroke: '#555', r: 3};
const coral = {line: '#f27c78', fill: '#fbc48e', stroke: '#f07a70', r: 3.1};
const greyI = {line: '#666', fill: '#bdbdbd', stroke: '#777', r: 3};

const gE = document.getElementById('panel-e');
const yE = yScale(40, 100, 764, 616);
drawAxis(gE, 'e', {x: 335, y: yE, ticks: efTicks, color: '#444', width: 1, labelX: 329.3, font: 13, xEnd: 525});
drawPaired(gE, 'e-wt', 359.7, 49.6, yE, eWtBasal, eWtIso, grey, '#444');
drawPaired(gE, 'e-ko', 463, 43, yE, eKoBasal, eKoIso, grey, '#444');

const gF = document.getElementById('panel-f');
const yF = yScale(40, 100, 763.3, 616.7);
drawAxis(gF, 'f', {x: 594, y: yF, ticks: efTicks, color: '#666', width: 1.2, labelX: 590, font: 13, xEnd: 775});
drawPaired(gF, 'f-wt', 618.3, 49.4, yF, fWtBasal, fWtCar, coral, '#666');
drawPaired(gF, 'f-ko', 718.7, 40.6, yF, fKoBasal, fKoCar, coral, '#666');

const gH = document.getElementById('panel-h');
const yH = yScale(40, 100, 1044, 903.3);
drawAxis(gH, 'h', {x: 335.3, y: yH, ticks: efTicks, color: '#444', width: 1, labelX: 330.7, font: 13, xEnd: 528});
drawPaired(gH, 'h-ko', 362, 40.3, yH, hKoBasal, hKoCar, coral, '#444');
drawPaired(gH, 'h-wt', 456.7, 40, yH, hWtBasal, hWtCar, coral, '#444');

const gI = document.getElementById('panel-i');
const yI = yScale(40, 100, 1044.3, 902.7);
drawAxis(gI, 'i', {x: 597, y: yI, ticks: efTicks, color: '#444', width: 1, labelX: 592.3, font: 13, xEnd: 784.3});
drawPaired(gI, 'i-iso', 620.7, 47, yI, iIsoBasal, iIsoAfter, greyI, '#444');
drawPaired(gI, 'i-ici', 717.7, 40.6, yI, iIciBasal, iIciAfter, greyI, '#444');

/* ---------- panel G ---------- */
const gG = document.getElementById('panel-g');
const yG = yScale(20, 100, 1039.3, 898.3);
const xG = i => 74 + i * 26.7;
drawAxis(gG, 'g', {x: 57.3, y: yG, ticks: gTicks, color: '#999', width: 1.5, labelX: 48.7, font: 13, xEnd: 198.3});
gDoses.forEach((d, i) => {
  drawXTick(gG, 'g-x-tick', xG(i), yG(20), '#777');
  if (d) {
    const lb = mk('text', {x: xG(i) + (i === 3 ? -2 : 1), y: 1060, 'text-anchor': 'middle', 'font-size': 12.5}, gG, d);
    
    
  }
});
gSeries.forEach((vals, i) => {
  swarm(vals, yG, 8, 10).forEach(p => {
    const dot = mk('circle', {cx: xG(i) + p.off, cy: yG(p.v), r: 3.2, fill: '#fbc08a', stroke: '#f8a09a', 'stroke-width': .9}, gG);
    
    
  });
});
gMeans.forEach((m, i) => {
  drawErr(gG, 'g', xG(i), yG, m, gErrs[i], 7, 4, '#f08a8a', 1);
});
</script>
</body>
</html>
